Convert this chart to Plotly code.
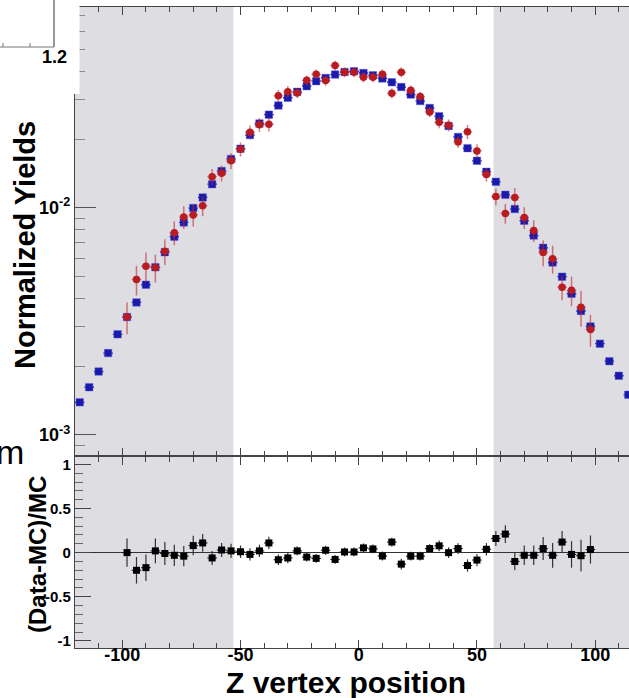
import plotly.graph_objects as go

# ---------------- data ----------------
z_mc = [-118, -114, -110, -106, -102, -98, -94, -90, -86, -82, -78, -74, -70, -66, -62, -58,
        -54, -50, -46, -42, -38, -34, -30, -26, -22, -18, -14, -10, -6, -2, 2, 6, 10, 14,
        18, 22, 26, 30, 34, 38, 42, 46, 50, 54, 58, 62, 66, 70, 74, 78, 82, 86, 90, 94,
        98, 102, 106, 110, 114]
mc_yield = [1.39e-3, 1.62e-3, 1.90e-3, 2.29e-3, 2.77e-3, 3.30e-3, 3.83e-3, 4.58e-3, 5.47e-3,
            6.37e-3, 7.46e-3, 8.62e-3, 9.97e-3, 1.11e-2, 1.27e-2, 1.45e-2, 1.64e-2, 1.82e-2,
            2.09e-2, 2.35e-2, 2.57e-2, 2.82e-2, 3.05e-2, 3.24e-2, 3.43e-2, 3.61e-2, 3.73e-2,
            3.86e-2, 3.96e-2, 3.99e-2, 3.92e-2, 3.83e-2, 3.71e-2, 3.57e-2, 3.40e-2, 3.15e-2,
            2.95e-2, 2.75e-2, 2.53e-2, 2.29e-2, 2.05e-2, 1.83e-2, 1.61e-2, 1.44e-2, 1.30e-2,
            1.14e-2, 9.87e-3, 8.77e-3, 7.54e-3, 6.66e-3, 5.74e-3, 4.97e-3, 4.18e-3, 3.51e-3,
            3.00e-3, 2.52e-3, 2.11e-3, 1.82e-3, 1.50e-3]

z_data = [-98, -94, -90, -86, -82, -78, -74, -70, -66, -62, -58, -54, -50, -46, -42, -38,
          -34, -30, -26, -22, -18, -14, -10, -6, -2, 2, 6, 10, 14, 18, 22, 26, 30, 34, 38,
          42, 46, 50, 54, 58, 62, 66, 70, 74, 78, 82, 86, 90, 94, 98]
data_yield = [3.30e-3, 4.83e-3, 5.53e-3, 5.45e-3, 6.43e-3, 7.77e-3, 9.10e-3, 9.29e-3, 1.02e-2,
              1.37e-2, 1.42e-2, 1.61e-2, 1.81e-2, 2.15e-2, 2.32e-2, 2.33e-2, 3.11e-2, 3.24e-2,
              3.20e-2, 3.64e-2, 3.87e-2, 3.63e-2, 4.23e-2, 3.95e-2, 3.95e-2, 3.76e-2, 3.76e-2,
              3.87e-2, 3.19e-2, 3.95e-2, 3.29e-2, 3.09e-2, 2.64e-2, 2.38e-2, 2.31e-2, 1.95e-2,
              2.16e-2, 1.78e-2, 1.40e-2, 1.12e-2, 9.44e-3, 1.11e-2, 9.06e-3, 7.93e-3, 6.35e-3,
              5.96e-3, 4.47e-3, 4.33e-3, 3.65e-3, 2.91e-3]
data_rel_err = [0.16, 0.15, 0.15, 0.14, 0.13, 0.12, 0.115, 0.11, 0.10, 0.08, 0.08, 0.08, 0.07,
                0.07, 0.07, 0.07, 0.06, 0.06, 0.05, 0.05, 0.05, 0.05, 0.05, 0.05, 0.05, 0.05,
                0.05, 0.05, 0.05, 0.05, 0.05, 0.05, 0.05, 0.06, 0.06, 0.06, 0.07, 0.07, 0.07,
                0.086, 0.10, 0.10, 0.11, 0.11, 0.13, 0.14, 0.125, 0.15, 0.18, 0.16]

ratio = [0.0, -0.20, -0.17, 0.02, -0.01, -0.03, -0.04, 0.08, 0.11, -0.06, 0.03, 0.02, 0.01,
         -0.02, 0.02, 0.11, -0.08, -0.06, 0.02, -0.05, -0.065, 0.027, -0.077, 0.008, 0.008,
         0.054, 0.042, -0.038, 0.12, -0.13, -0.04, -0.04, 0.046, 0.077, 0.0, 0.046, -0.146,
         -0.084, 0.038, 0.16, 0.21, -0.10, -0.03, -0.03, 0.046, -0.03, 0.12, -0.02, -0.035, 0.035]
ratio_err = [0.16, 0.15, 0.15, 0.14, 0.13, 0.12, 0.115, 0.11, 0.10, 0.08, 0.08, 0.08, 0.07,
             0.07, 0.07, 0.07, 0.06, 0.06, 0.05, 0.05, 0.05, 0.05, 0.05, 0.05, 0.05, 0.05,
             0.05, 0.05, 0.05, 0.06, 0.05, 0.05, 0.05, 0.06, 0.06, 0.06, 0.07, 0.07, 0.07,
             0.086, 0.10, 0.10, 0.11, 0.11, 0.13, 0.14, 0.125, 0.15, 0.18, 0.16]

x_tick_vals = [-100, -50, 0, 50, 100]
x_tick_text = ["-100", "-50", "0", "50", "100"]
y_tick_vals = [0.001, 0.01]
y_tick_text = ["10<sup>-3</sup>", "10<sup>-2</sup>"]
y_minor_vals = [0.0009, 0.002, 0.003, 0.004, 0.005, 0.006, 0.007, 0.008, 0.009,
                0.02, 0.03, 0.04, 0.05, 0.06, 0.07]
r_tick_vals = [-1, -0.5, 0, 0.5, 1]
r_tick_text = ["-1", "-0.5", "0", "0.5", "1"]
side_bands = [(-120, -53), (57, 120)]

# ---------------- styling ----------------
W, H = 629, 698
ML, MR, MT, MB = 75, 0, 7, 50
PW, PH = W - ML - MR, H - MT - MB
split = 191.6 / PH

def px(xp):
    return (xp - ML) / PW

def py(yp):
    return (H - MB - yp) / PH

FONT = "Liberation Sans, Arial, sans-serif"
BLUE = "rgb(26,26,170)"
RED = "rgb(185,28,32)"
RED_ERR = "rgba(190,40,50,0.6)"
GREY = "#dedde2"
AX = "#444"

fig = go.Figure()
fig.add_trace(go.Scatter(
    x=z_mc, y=mc_yield, mode="markers", xaxis="x", yaxis="y",
    marker=dict(symbol="square", size=7.5, color=BLUE,
                line=dict(color="rgba(90,90,220,0.45)", width=1)),
    error_x=dict(type="constant", value=2, color=BLUE, thickness=1.3, width=0),
    showlegend=False))
fig.add_trace(go.Scatter(
    x=z_data, y=data_yield, mode="markers", xaxis="x", yaxis="y",
    marker=dict(symbol="circle", size=7.5, color=RED),
    error_x=dict(type="constant", value=2, color=RED_ERR, thickness=1.3, width=0),
    error_y=dict(type="data", array=[v * e for v, e in zip(data_yield, data_rel_err)],
                 color=RED_ERR, thickness=1.5, width=0),
    showlegend=False))
fig.add_trace(go.Scatter(
    x=z_data, y=ratio, mode="markers", xaxis="x2", yaxis="y2",
    marker=dict(symbol="square", size=7, color="black"),
    error_x=dict(type="constant", value=2, color="#222", thickness=1.2, width=0),
    error_y=dict(type="data", array=ratio_err, color="#333", thickness=1.2, width=0),
    showlegend=False))

shapes = []
for x0, x1 in side_bands:
    for xr, yr in (("x", "y domain"), ("x2", "y2 domain")):
        shapes.append(dict(type="rect", xref=xr, yref=yr, x0=x0, x1=x1, y0=0, y1=1,
                           fillcolor=GREY, line_width=0, layer="below"))
# top-left white patch and partial frame fragment
shapes.append(dict(type="rect", xref="paper", yref="paper", x0=px(-2), x1=px(79.5),
                   y0=py(94), y1=py(-2), fillcolor="white", line_width=0, layer="above"))
shapes.append(dict(type="line", xref="paper", yref="paper", x0=px(54), x1=px(54),
                   y0=py(-2), y1=py(47), line=dict(color="#555", width=1.2), layer="above"))
shapes.append(dict(type="line", xref="paper", yref="paper", x0=px(-2), x1=px(54),
                   y0=py(47), y1=py(47), line=dict(color="#777", width=1.2), layer="above"))
for tx in (3, 30):
    shapes.append(dict(type="line", xref="paper", yref="paper", x0=px(tx), x1=px(tx),
                       y0=py(47), y1=py(43), line=dict(color="#777", width=1), layer="above"))

annotations = [
    dict(text="<b>Normalized Yields</b>", xref="paper", yref="paper", x=px(25), y=py(245),
         textangle=-90, showarrow=False, xanchor="center", yanchor="middle",
         font=dict(family=FONT, size=29, color="black")),
    dict(text="<b>(Data-MC)/MC</b>", xref="paper", yref="paper", x=px(37), y=py(555),
         textangle=-90, showarrow=False, xanchor="center", yanchor="middle",
         font=dict(family=FONT, size=24, color="black")),
    dict(text="<b>Z vertex position</b>", xref="paper", yref="paper", x=px(346), y=py(682),
         showarrow=False, xanchor="center", yanchor="middle",
         font=dict(family=FONT, size=30, color="black")),
    dict(text="<b>1.2</b>", xref="paper", yref="paper", x=px(54), y=py(57),
         showarrow=False, xanchor="center", yanchor="middle",
         font=dict(family=FONT, size=18, color="black")),
    dict(text="m", xref="paper", yref="paper", x=px(10), y=py(452),
         showarrow=False, xanchor="center", yanchor="middle",
         font=dict(family=FONT, size=34, color="black")),
]

xcommon = dict(range=[-120, 114.3], showline=True, linecolor=AX, linewidth=1.2,
               mirror="ticks", ticks="inside", tickvals=x_tick_vals, ticklen=8,
               tickcolor=AX, showgrid=False, zeroline=False,
               minor=dict(dtick=10, tick0=0, ticks="inside", ticklen=5, tickcolor=AX))

fig.update_layout(
    width=W, height=H, margin=dict(l=ML, r=MR, t=MT, b=MB),
    paper_bgcolor="white", plot_bgcolor="white",
    xaxis=dict(**xcommon, anchor="y", showticklabels=False, matches="x2"),
    xaxis2=dict(**xcommon, anchor="y2", ticktext=x_tick_text, ticklabelstandoff=-10,
                tickfont=dict(family=FONT, size=18, color="black", weight="bold")),
    yaxis=dict(type="log", domain=[split, 1], range=[-3.095, -1.116], anchor="x",
               showline=True, linecolor=AX, linewidth=1.2, mirror=False,
               ticks="inside", tickvals=y_tick_vals, ticktext=y_tick_text, ticklen=21,
               tickcolor="#555", showgrid=False, zeroline=False,
               tickfont=dict(family=FONT, size=18, color="black", weight="bold"),
               minor=dict(tickvals=y_minor_vals, ticks="inside", ticklen=10,
                          tickcolor="#888")),
    yaxis2=dict(domain=[0, split], range=[-1.08, 1.09], anchor="x2",
                showline=True, linecolor=AX, linewidth=1.2, mirror=False,
                ticks="inside", tickvals=r_tick_vals, ticktext=r_tick_text, ticklen=16,
                tickcolor=AX, showgrid=False, zeroline=True, zerolinecolor="#333",
                zerolinewidth=1.2,
                tickfont=dict(family=FONT, size=15, color="black", weight="bold"),
                minor=dict(dtick=0.1, tick0=0, ticks="inside", ticklen=8, tickcolor="#666")),
    shapes=shapes, annotations=annotations,
)

fig.write_html("out.html")
